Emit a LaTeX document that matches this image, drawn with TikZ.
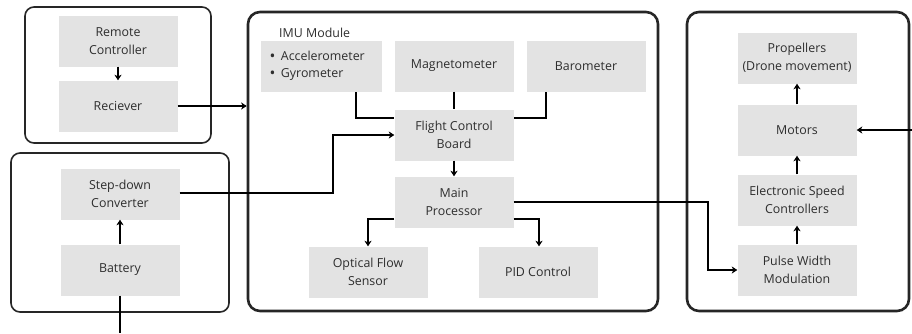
\documentclass[tikz,border=0pt]{standalone}
\usepackage{fontspec}
\setmainfont{Open Sans}
\usetikzlibrary{arrows.meta,calc}
\definecolor{boxgray}{HTML}{E3E3E3}
\definecolor{txt}{HTML}{2E2E2E}
\newcommand{\mybul}{\raisebox{-0.15ex}{\scalebox{1.25}{\textbullet}}\hspace{0.45em}}
\begin{document}
\begin{tikzpicture}[x=1pt,y=-1pt,
  blk/.style={fill=boxgray,draw=none,minimum width=119pt,minimum height=51pt,inner sep=1pt,
    align=center,text=txt,font=\fontsize{12.4}{17.5}\selectfont},
  grp/.style={draw=black!85,rounded corners=9pt,line width=1.6pt,inner sep=0pt},
  biggrp/.style={draw=black!85,rounded corners=12pt,line width=2.6pt,inner sep=0pt},
  conn/.style={line width=1.4pt,draw=black},
  arr/.style={conn,-{Stealth[length=5.5pt,width=7pt,inset=1.5pt]}}]
\useasboundingbox (0,0) rectangle (912,333);
% group boxes
\node[grp,minimum width=186pt,minimum height=136pt] (g1) at (118,75) {};
\node[grp,minimum width=218pt,minimum height=159pt] (g2) at (120,232.5) {};
\node[biggrp,minimum width=410pt,minimum height=299pt] (imu) at (453,161.5) {};
\node[biggrp,minimum width=222pt,minimum height=299pt] (g4) at (798,161.5) {};
% left top
\node[blk] (rc) at (118,41) {Remote\\Controller};
\node[blk] (rx) at (118,106) {Reciever};
% left bottom
\node[blk] (sd) at (120,194) {Step-down\\Converter};
\node[blk] (bat) at (120,270) {Battery};
% IMU module
\node[text=txt,font=\fontsize{12.4}{14}\selectfont,anchor=west,inner sep=0pt] (imulbl) at (279,33) {IMU Module};
\node[blk,text width=103pt,inner xsep=9pt,align=left] (acc) at (321,66) {\mybul Accelerometer\\\mybul Gyrometer};
\node[blk] (mag) at (454,66) {Magnetometer};
\node[blk] (baro) at (586,66) {Barometer};
\node[blk] (fcb) at (454,135) {Flight Control\\Board};
\node[blk] (mp) at (454,202) {Main\\Processor};
\node[blk] (ofs) at (368,272) {Optical Flow\\Sensor};
\node[blk] (pid) at (538,272) {PID Control};
% right
\node[blk] (prop) at (797,58) {Propellers\\(Drone movement)};
\node[blk] (mot) at (797,130) {Motors};
\node[blk] (esc) at (797,200) {Electronic Speed\\Controllers};
\node[blk] (pwm) at (797,270) {Pulse Width\\Modulation};
% free ends
\coordinate (botend) at (120,333);
\coordinate (rightend) at (912,130);
% connectors
\draw[arr] (rc) -- (rx);
\draw[arr] (rx.east) -- (rx.east -| imu.west);
\draw[arr] (bat) -- (sd);
\draw[conn] (bat.south) -- (botend);
\draw[arr] (sd.east |- 0,193) -- (333,193) -- (333,135) -- (fcb.west);
\draw[conn] (356,92) -- (356,118) -- (fcb.west |- 0,118);
\draw[conn] (mag) -- (fcb);
\draw[conn] (546,92) -- (546,118) -- (fcb.east |- 0,118);
\draw[arr] (fcb) -- (mp);
\draw[arr] (mp.west |- 0,219) -| (ofs.north);
\draw[arr] (mp.east |- 0,219) -| (pid.north -| 539,0);
\draw[arr] (mp.east |- 0,202) -- (708,202) -- (708,270) -- (pwm.west);
\draw[arr] (pwm) -- (esc);
\draw[arr] (esc) -- (mot);
\draw[arr] (mot) -- (prop);
\draw[arr] (rightend) -- (mot.east);
\end{tikzpicture}
\end{document}
